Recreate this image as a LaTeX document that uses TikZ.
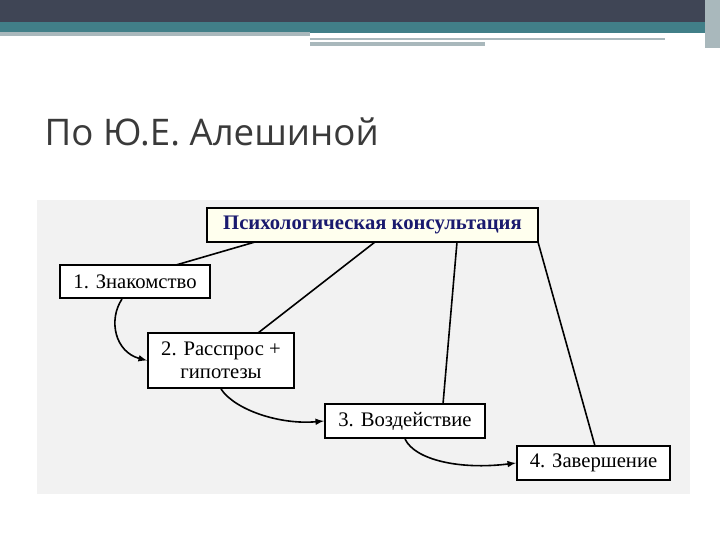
\documentclass[tikz,border=0pt]{standalone}
\usepackage{fontspec}
\setmainfont{Liberation Serif}
\newfontfamily\titlefont{Open Sans}
\definecolor{band}{HTML}{3F4555}
\definecolor{teal}{HTML}{417F88}
\definecolor{lgray}{HTML}{A9B8BC}
\definecolor{panel}{HTML}{F2F2F2}
\definecolor{ttl}{HTML}{3A3A3A}
\definecolor{dblue}{HTML}{1A1A6E}
\begin{document}
\begin{tikzpicture}[x=0.75pt,y=-0.75pt,
  box/.style={draw,line width=1.5pt,fill=white,inner sep=0pt,font=\fontsize{15.5}{17}\selectfont,align=center},
  link/.style={line width=1.2pt},
  flow/.style={line width=1.2pt,-latex}]
\useasboundingbox (0,0) rectangle (720,540);
\fill[white] (0,0) rectangle (720,540);
\fill[band] (0,0) rectangle (720,22);
\fill[teal] (0,22) rectangle (720,33);
\fill[lgray] (0,32) rectangle (310,36);
\fill[lgray] (310,42) rectangle (485,46);
\fill[lgray] (310,38) rectangle (665,40);
\fill[lgray] (705,0) rectangle (720,48);
\node[anchor=west,text=ttl,font=\titlefont\fontsize{27.5}{30}\selectfont] (t) at (40,132) {По Ю.Е. Алешиной};
\fill[panel] (37,200) rectangle (690,494);
\node[box,fill={rgb,255:red,255;green,255;blue,238},text=dblue,font=\bfseries\fontsize{15.5}{17}\selectfont,minimum width=331*0.75pt,minimum height=34*0.75pt] (p) at (372.5,225) {Психологическая консультация};
\node[box,minimum width=150*0.75pt,minimum height=33*0.75pt] (a) at (135,281.5) {1. Знакомство};
\node[box,minimum width=146*0.75pt,minimum height=55*0.75pt] (b) at (221,360.5) {2. Расспрос +\\гипотезы};
\node[box,minimum width=160*0.75pt,minimum height=34*0.75pt] (c) at (405,421) {3. Воздействие};
\node[box,minimum width=153*0.75pt,minimum height=34*0.75pt] (d) at (593.5,463) {4. Завершение};
\draw[link] (255,242) -- (176,265);
\draw[link] (375,242) -- (258,333);
\draw[link] (457,242) -- (443,404);
\draw[link] (538,242) -- (595,446);
\draw[flow] (a.south west)++(63,0) .. controls (108,320) and (115,352) .. (b.west);
\draw[flow] (b.south) .. controls (235,410) and (280,425) .. (c.west);
\draw[flow] (c.south) .. controls (415,460) and (460,470) .. (d.west);
\end{tikzpicture}
\end{document}
